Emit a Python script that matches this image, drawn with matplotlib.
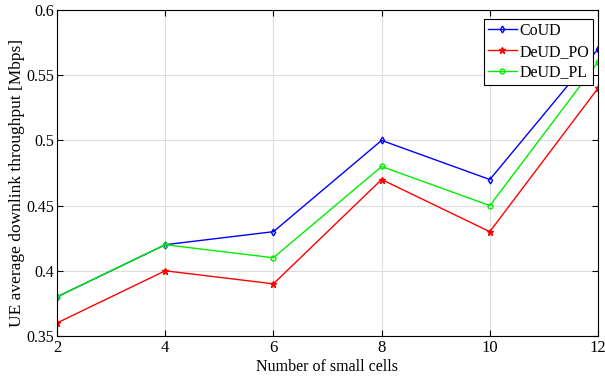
import matplotlib
matplotlib.use("Agg")
import matplotlib.pyplot as plt

x = [2, 4, 6, 8, 10, 12]
coud = [0.38, 0.42, 0.43, 0.50, 0.47, 0.57]
deud_po = [0.36, 0.40, 0.39, 0.47, 0.43, 0.54]
deud_pl = [0.38, 0.42, 0.41, 0.48, 0.45, 0.56]
yticks = [0.35, 0.4, 0.45, 0.5, 0.55, 0.6]
yticklabels = ["0.35", "0.4", "0.45", "0.5", "0.55", "0.6"]

plt.rcParams['font.family'] = ['Liberation Serif', 'DejaVu Serif']
fig = plt.figure(figsize=(6.05, 3.83), dpi=100)
L, R, T, B = 57, 598, 10, 336
ax = fig.add_axes([L/605, 1-B/383, (R-L)/605, (B-T)/383])
ax.plot(x, coud, color='blue', marker='d', markersize=3.5, markerfacecolor='none', lw=1, label='CoUD')
ax.plot(x, deud_po, color='red', marker='*', markersize=4.5, lw=1, label='DeUD_PO')
ax.plot(x, deud_pl, color='#00ee00', marker='o', markersize=3.5, markerfacecolor='none', lw=1, label='DeUD_PL')
ax.set_xlim(2, 12)
ax.set_ylim(0.35, 0.6)
ax.set_xticks(x)
ax.set_yticks(yticks)
ax.set_yticklabels(yticklabels)
ax.grid(True, color='#dddddd', lw=0.8)
ax.tick_params(axis='x', direction='in', labelsize=12, length=4, top=True, pad=3)
ax.tick_params(axis='y', direction='in', labelsize=11.5, length=4, right=True, pad=2)
for s in ax.spines.values():
    s.set_linewidth(0.8)
ax.set_xlabel('Number of small cells', fontsize=11.5, labelpad=2)
ax.set_ylabel('UE average downlink throughput [Mbps]', fontsize=12.5)
ax.yaxis.set_label_coords(-0.06, 0.47)
leg = ax.legend(loc='upper right', bbox_to_anchor=(1 - 5/541, 1 - 9/326), fontsize=11.5, fancybox=False,
                framealpha=1, edgecolor='black', handlelength=1.8, borderpad=0.25,
                labelspacing=0.3, handletextpad=0.15, borderaxespad=0.0)
leg.get_frame().set_linewidth(0.8)
fig.savefig('out.png', dpi=100)
